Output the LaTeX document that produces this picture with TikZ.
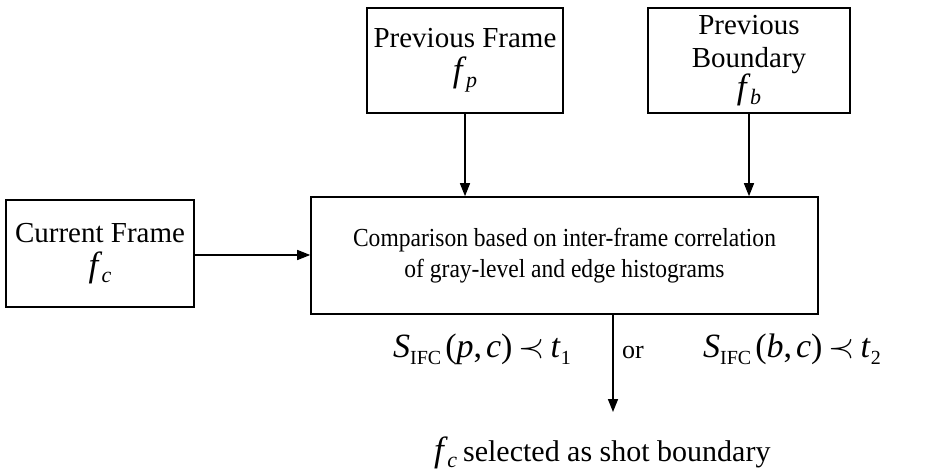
\documentclass[tikz,border=0pt]{standalone}
\usepackage{fontspec}
\usepackage{graphicx}
\setmainfont{Liberation Serif}
\newfontfamily\narrowfont{Liberation Serif}[FakeStretch=0.905]
\usetikzlibrary{arrows.meta}
\newcommand{\iv}[1]{\textit{#1}}
\newcommand{\fsub}[2]{{\fontsize{35}{35}\selectfont\textit{#1}}\kern-0.02em\raisebox{-6pt}{\fontsize{22}{22}\selectfont\textit{#2}}}
\newcommand{\usub}[2]{\textit{#1}\raisebox{-7pt}{\fontsize{20}{20}\selectfont #2}}
\newcommand{\cond}[2]{{\fontsize{34}{34}\selectfont\usub{S}{IFC}\kern4pt(\iv{#1},\kern4pt\iv{c})\kern6pt\raisebox{0pt}{\scalebox{1.35}{$\prec$}}\kern6pt\usub{t}{#2}}}
\begin{document}
\begin{tikzpicture}[x=1pt,y=1pt,
  box/.style={draw, line width=1.6pt, rectangle, align=center, inner sep=0pt,
    font=\fontsize{29}{33}\selectfont},
  lbl/.style={inner sep=0pt},
  arr/.style={line width=1.5pt, -{Triangle[length=13pt,width=10pt]}}]
\useasboundingbox (0,0) rectangle (930,-473);
\node[box, minimum width=196, minimum height=105] (pf) at (465,-60.5)
  {Previous Frame\\[1pt]\fsub{f}{p}};
\node[box, minimum width=202, minimum height=105] (pb) at (749,-60.5)
  {\fontsize{29}{31}\selectfont Previous\\Boundary\\[-2pt]\fsub{f}{b}};
\node[box, minimum width=188, minimum height=107] (cf) at (100,-253.5)
  {Current Frame\\[1pt]\fsub{f}{c}};
\node[box, minimum width=507, minimum height=117, font=\narrowfont\fontsize{26}{31}\selectfont] (cmp) at (564.5,-255.5)
  {Comparison based on inter-frame correlation\\of gray-level and edge histograms};
\coordinate (end) at (613,-412);
\node[lbl, anchor=base] (c1) at (482,-357) {\cond{p}{1}};
\node[lbl, anchor=base, font=\fontsize{26}{26}\selectfont] (or) at (633,-359) {or};
\node[lbl, anchor=base] (c2) at (792,-357) {\cond{b}{2}};
\node[lbl, anchor=base west, font=\fontsize{30}{30}\selectfont] (out) at (434,-461)
  {\fsub{f}{c}\kern6pt selected as shot boundary};
\draw[arr] (pf.south) -- (pf.south |- cmp.north);
\draw[arr] (pb.south) -- (pb.south |- cmp.north);
\draw[arr] (cf.east |- 0,-255) -- (cmp.west |- 0,-255);
\draw[arr] (cmp.south -| end) -- (end);
\end{tikzpicture}
\end{document}
